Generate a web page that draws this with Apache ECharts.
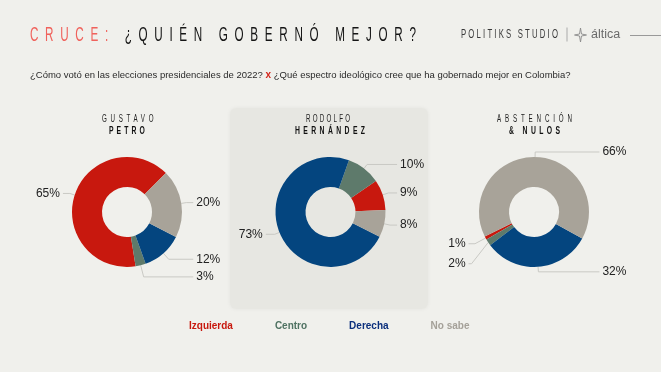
<!DOCTYPE html>
<html><head><meta charset="utf-8">
<script src="https://cdn.jsdelivr.net/npm/echarts@6/dist/echarts.min.js"></script>
<style>
html,body{margin:0;padding:0;background:#f0f0ec;}
#wrap{position:relative;width:661px;height:372px;overflow:hidden;background:#f0f0ec;}
#chart{position:absolute;left:0;top:0;width:661px;height:372px;}
.t{position:absolute;white-space:nowrap;font-family:'Liberation Sans Narrow','Liberation Sans',sans-serif;transform-origin:0 0;line-height:1;pointer-events:none;color:#151515;}
</style></head>
<body><div id="wrap"><div id="chart"></div></div>
<script>
// ---- data ----
const categories = ['Izquierda', 'Centro', 'Derecha', 'No sabe'];
const petroValues = [65, 3, 12, 20];
const hernandezValues = [9, 10, 73, 8];
const abstencionValues = [1, 2, 32, 66];
const groupTitlesTop = ['GUSTAVO', 'RODOLFO', 'ABSTENCIÓN'];
const groupTitlesBottom = ['PETRO', 'HERNÁNDEZ', '& NULOS'];
const titleAccent = 'CRUCE:';
const titleMain = ' ¿QUIÉN GOBERNÓ MEJOR?';
const subtitleA = '¿Cómo votó en las elecciones presidenciales de 2022?';
const subtitleB = '¿Qué espectro ideológico cree que ha gobernado mejor en Colombia?';
const brandA = 'POLITIKS STUDIO';
const brandB = 'áltica';

// ---- styles ----
const colors = ['#c8180e', '#5e7a6b', '#04457f', '#a8a399'];
const legendColors = ['#c8180e', '#4f7262', '#0b2f7c', '#a5a199'];
const pieLayout = [
  {values: petroValues, center: [127, 212], start: 45, len1: [5, 12, 8, 5], len2: [7, 7, 7, 7],
   lh: [14, 14, 14, 14]},
  {values: hernandezValues, center: [330.5, 212], start: 2, len1: [6, 5, 5, 6], len2: [7, 7, 9, 7],
   lh: [14, 14, 14, 14]},
  {values: abstencionValues, center: [534, 212], start: 206.5, len1: [12, 20, 5, 5], len2: [6, 3, 61, 61],
   lh: [22, 14, 14, 14]}
];

const wrap = document.getElementById('wrap');
function spaced(html, text, left, capCenterY, fs, targetW, sx, weight, color, centerX) {
  const el = document.createElement('div');
  el.className = 't';
  el.style.fontSize = fs + 'px';
  el.style.fontWeight = weight || 'normal';
  if (color) el.style.color = color;
  el.innerHTML = html;
  wrap.appendChild(el);
  const n = text.length;
  const nat = el.getBoundingClientRect().width;
  const ls = (targetW / sx - nat) / (n - 1);
  el.style.letterSpacing = ls + 'px';
  const x = centerX !== undefined ? centerX - targetW / 2 : left;
  el.style.left = x + 'px';
  el.style.top = (capCenterY - 0.49 * fs) + 'px';
  el.style.transform = 'scaleX(' + sx + ')';
  return el;
}
// header
spaced('<span style="color:#f0625c">' + titleAccent + '</span>' + titleMain.replace(' ', '&nbsp;'),
  titleAccent + titleMain, 30, 35, 19.5, 386, 0.6, 'normal');
spaced(brandA, brandA, 461, 34.5, 12.5, 97, 0.62, 'normal', '#3a3a3a');
// group titles
const tops = [[127.5, 51.5], [328, 44], [534, 75]];
const bots = [[127.2, 35.7], [330, 70], [534, 51]];
groupTitlesTop.forEach((t, i) => spaced(t, t, 0, 118.5, 10, tops[i][1], 0.62, 'normal', '#222', tops[i][0]));
groupTitlesBottom.forEach((t, i) => spaced(t.replace('&', '&amp;'), t, 0, 130, 11, bots[i][1], 0.62, 'bold', '#111', bots[i][0]));

const chart = echarts.init(document.getElementById('chart'));
chart.setOption({
  backgroundColor: 'transparent',
  animation: false,
  legend: {
    left: 179, top: 316.5, icon: 'rect', itemWidth: 0, itemHeight: 0, itemGap: 37,
    selectedMode: false,
    data: categories.map((c, j) => ({name: c, textStyle: {color: legendColors[j]}})),
    textStyle: {fontFamily: 'Liberation Sans', fontSize: 10, fontWeight: 'bold'}
  },
  graphic: [
    {type: 'rect', z: -10, shape: {x: 230, y: 108, width: 198, height: 201, r: 6},
     style: {fill: '#e7e7e2', shadowBlur: 4, shadowColor: 'rgba(0,0,0,0.05)'}},
    {type: 'text', x: 30, y: 75, style: {
      text: '{a|' + subtitleA + '} {x|x} {a|' + subtitleB + '}',
      verticalAlign: 'middle', fontFamily: 'Liberation Sans', fontSize: 9.5,
      rich: {a: {fill: '#2a2a2a', fontSize: 9.5, fontFamily: 'Liberation Sans'},
             x: {fill: '#d3261b', fontSize: 10, fontWeight: 'bold', fontFamily: 'Liberation Sans'}}
    }},
    {type: 'line', shape: {x1: 567, y1: 27.5, x2: 567, y2: 41.5}, style: {stroke: '#aaa', lineWidth: 1}},
    {type: 'polygon', x: 580.5, y: 35,
     shape: {points: [[0, -7], [1, -1], [6, 0], [1, 1], [0, 7], [-1, 1], [-6, 0], [-1, -1]]},
     style: {fill: 'none', stroke: '#8a8a8a', lineWidth: 0.9}},
    {type: 'text', x: 591, y: 35, style: {text: brandB, verticalAlign: 'middle', fill: '#6a6a6a', fontSize: 12.5, fontFamily: 'Liberation Sans'}},
    {type: 'line', shape: {x1: 630, y1: 35.5, x2: 661, y2: 35.5}, style: {stroke: '#999', lineWidth: 1}}
  ],
  series: pieLayout.map((p) => ({
    type: 'pie', center: p.center, radius: [25, 55], startAngle: p.start, clockwise: false,
    avoidLabelOverlap: true, silent: true, emphasis: {disabled: true, scale: false},
    label: {show: true, formatter: '{c}%', color: '#222', fontSize: 12, fontFamily: 'Liberation Sans',
            alignTo: 'labelLine', distanceToLabelLine: 3},
    labelLine: {show: true, length: 5, length2: 7, lineStyle: {color: '#c9c9c4', width: 1}},
    data: categories.map((c, j) => ({name: c, value: p.values[j], itemStyle: {color: colors[j]},
      label: {lineHeight: p.lh[j]},
      labelLine: {length: p.len1[j], length2: p.len2[j]}}))
  }))
});
</script>
</body></html>
